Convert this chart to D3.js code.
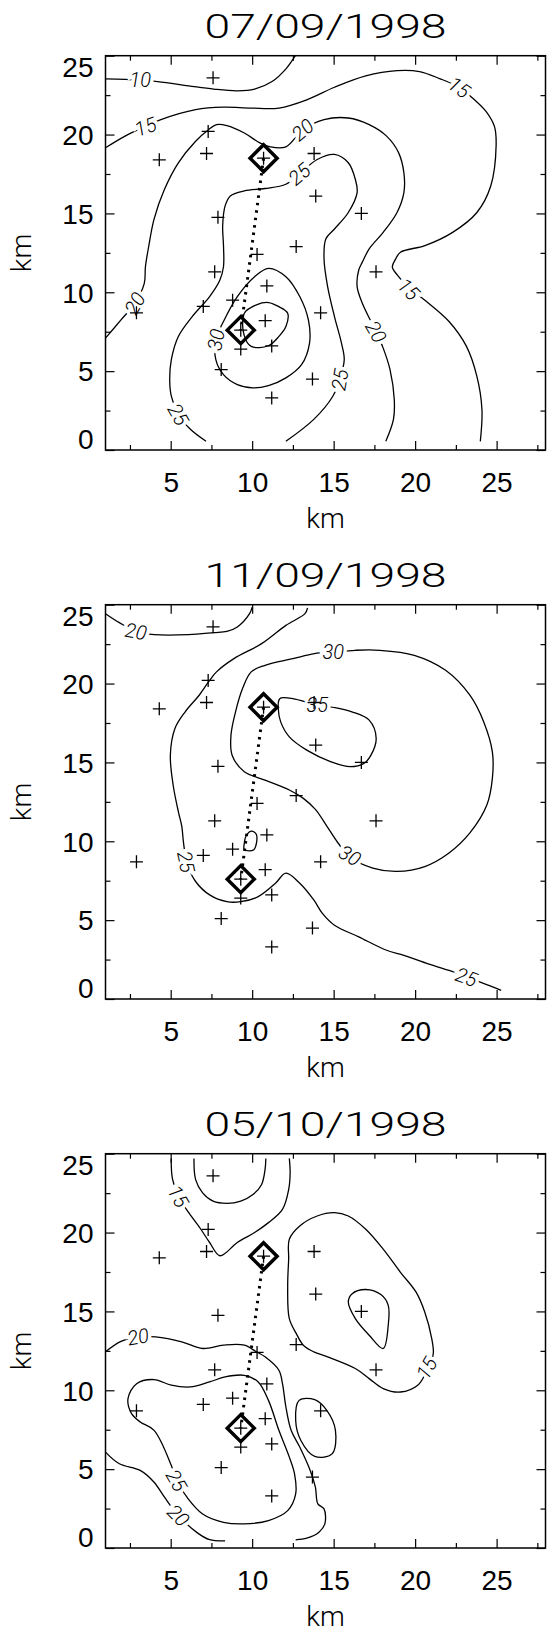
<!DOCTYPE html>
<html>
<head>
<meta charset="utf-8">
<title>Contours 1998</title>
<style>
  body { margin: 0; background: #fff; }
  svg { display: block; font-family: Roboto, "Liberation Sans", sans-serif; }
</style>
</head>
<body>
<svg width="547" height="1634"></svg>
<script src="https://cdn.jsdelivr.net/npm/d3@7/dist/d3.min.js"></script>
<script>

// ---- data (km) ----
var dates = ["07/09/1998", "11/09/1998", "05/10/1998"];
var xTicks = [5, 10, 15, 20, 25];
var yTicks = [0, 5, 10, 15, 20, 25];
var xMinor = [2.5, 7.5, 12.5, 17.5, 22.5, 27.5];
var yMinor = [2.5, 7.5, 12.5, 17.5, 22.5];

// stations (crosses), same on every date
var stations = [[7.6,23.6],[4.3,18.4],[7.2,18.8],[7.3,20.2],[10.7,18.5],[13.8,18.8],[13.9,16.1],
    [16.7,15.0],[7.9,14.75],[12.7,12.9],[10.3,12.4],[7.7,11.3],[17.6,11.3],[10.9,10.4],[8.8,9.5],
    [7.0,9.1],[2.9,8.7],[14.2,8.7],[10.8,8.2],[9.3,7.6],[9.3,6.4],[11.2,6.6],[8.1,5.1],[13.7,4.5],[11.2,3.3]];
// the two marked sites joined by the dotted line
var sites = [[10.7,18.5],[9.3,7.6]];

// 07/09/1998
var p1_10 = [[1,23.53],[2.2,23.5],[4.2,23.36],[6.1,23.09],[7.64,22.88],[9.1,22.77],[10.15,22.88],[11.22,23.36],[12.1,24.2],[12.65,25]];
var p1_15 = [[1,19.16],[2.2,19.9],[3.4,20.5],[4.4,20.95],[6.53,21.58],[8.24,21.74],[9.94,21.68],[11.65,21.68],[13.35,22.2],
    [15.05,23.0],[16.97,23.72],[18.89,24.05],[20.27,23.99],[21.5,23.55],[22.7,23.0],[23.54,22.3],[24.36,21.45],[24.87,20.5],
    [24.97,19.3],[24.64,16.74],[23.79,15.06],[22.3,13.8],[20.6,12.96],[19.1,12.54],[18.8,12.1],[18.6,11.6],[18.9,11.1],
    [19.6,10.3],[20.6,9.5],[22.08,8.15],[23.15,6.57],[23.79,4.67],[24.1,2.57],[24.0,0.55]];
var p1_20 = [[1,7.09],[1.95,8.25],[2.8,9.3],[3.38,10.57],[3.45,11.62],[3.66,12.96],[3.98,14.64],[4.62,16.53],[5.47,18.21],
    [6.53,19.58],[7.32,20.31],[7.81,20.63],[8.45,20.57],[9.52,20.1],[10.47,19.47],[11.11,19.22],[12.07,19.22],[13.1,20.3],
    [14.41,20.95],[15.9,21.05],[17.18,20.63],[18.25,19.9],[18.99,18.84],[19.31,17.58],[19.31,16.32],[18.89,15.06],
    [18.04,13.8],[17.18,12.75],[16.76,11.91],[16.54,11.41],[16.44,10.36],[16.76,9.31],[17.6,7.5],[18.04,6.46],
    [18.46,5.09],[18.72,3.2],[18.67,1.94],[18.2,0.55]];
var p1_25 = [[7.17,0.55],[6.21,1.31],[5.47,2.25],[5.04,3.41],[4.94,4.46],[5.04,5.73],[5.47,7.2],[6.32,8.46],[7.39,9.73],
    [8.02,10.78],[8.24,11.62],[8.24,12.96],[8.19,14.22],[8.34,15.48],[8.66,16.11],[9.52,16.43],[10.79,16.58],[12.07,16.85],
    [12.9,17.5],[13.99,18.42],[15.05,18.74],[15.9,18.21],[16.33,17.16],[16.44,16.32],[15.9,15.06],[15.05,14.01],
    [14.52,13.38],[14.41,12.12],[14.63,10.36],[15.05,8.46],[15.48,6.78],[15.65,5.73],[15.37,4.46],[14.95,3.41],
    [13.78,1.94],[12.07,0.55]];
var p1_30 = [[8.24,8.15],[9.09,9.73],[10.15,10.99],[11.0,11.52],[12.07,10.99],[12.92,9.73],[13.45,8.25],[13.52,6.78],
    [13.03,5.41],[12.07,4.57],[11.0,4.08],[10.05,3.94],[9.09,4.15],[8.24,4.78],[7.77,5.73],[7.77,6.99]];
var p1_35 = [[9.52,8.67],[10.26,9.2],[11.0,9.35],[11.64,9.09],[12.18,8.67],[12.07,7.83],[11.64,7.2],[11.0,6.61],[9.94,6.57],[9.5,7.3]];
var p1_labels = [["10",3.13,23.5,0],["15",3.45,20.5,-20],["15",22.7,23.0,35],["20",13.1,20.3,-40],["25",12.9,17.5,-40],
    ["20",2.8,9.3,-60],["15",19.6,10.2,45],["20",17.6,7.5,60],["30",7.77,6.99,-80],["25",15.37,4.46,-80],["25",5.47,2.25,60]];

// 11/09/1998
var p2_20 = [[1,24.43],[1.85,23.86],[2.87,23.31],[4.0,23.1],[6.1,23.1],[7.64,23.23],[8.45,23.31],[9.09,23.59],[9.84,24.43],[10.0,24.85]];
var p2_25 = [[13.4,24.8],[13.24,24.43],[12.07,23.69],[10.58,22.53],[8.88,21.58],[7.81,20.74],[7.32,20.1],[6.75,19.26],[5.89,18.21],
    [5.26,17.15],[4.98,15.46],[5.15,13.57],[5.47,11.88],[5.68,10.96],[5.79,9.89],[6.0,8.6],[6.53,7.45],[7.39,6.6],
    [8.45,6.17],[9.3,6.17],[10.37,6.49],[11.43,7.34],[12.07,7.98],[12.92,7.34],[13.78,6.28],[14.31,5.43],[15.05,4.68],
    [16.54,3.94],[18.25,3.09],[19.31,2.77],[20.8,2.23],[22.08,1.81],[23.15,1.4],[24.43,0.9],[25.28,0.55]];
var p2_30 = [[14.97,22.0],[16.33,22.11],[17.82,22.11],[19.95,21.79],[21.87,20.84],[23.36,19.26],[24.21,17.57],[24.74,15.67],
    [24.74,13.99],[24.4,12.3],[23.36,10.53],[22.08,9.26],[20.59,8.4],[18.89,8.09],[17.4,8.3],[16.0,9.0],[15.27,9.89],
    [14.52,11.06],[13.88,12.02],[13.14,12.72],[12.28,13.25],[10.79,13.88],[9.52,14.41],[8.77,15.46],[8.7,16.73],
    [8.98,18.21],[9.41,19.68],[9.94,20.74],[10.79,21.16],[12.5,21.58],[13.82,21.9]];
var p2_35 = [[11.64,18.95],[11.77,19.09],[12.5,19.05],[13.99,18.63],[15.16,18.46],[16.12,18.21],[17.18,17.68],[17.61,16.52],
    [17.29,15.46],[16.86,14.94],[16.01,14.73],[14.84,15.04],[13.35,15.78],[12.28,16.62],[11.75,17.57],[11.6,18.42]];
var p2_40 = [[9.52,9.89],[9.62,10.32],[9.94,10.64],[10.26,10.43],[10.1,9.47],[9.52,9.47]];
var p2_labels = [["20",2.87,23.31,10],["30",14.97,22.0,0],["35",13.99,18.63,0],["25",5.95,8.7,78],["30",16.0,9.1,30],["25",23.15,1.4,20]];

// 05/10/1998
var p3_15a = [[5.03,24.7],[5.11,23.4],[5.47,22.3],[6.11,21.26],[6.85,20.21],[7.39,19.37],[8.02,18.53],[9.09,19.37],
    [10.15,20.0],[11.0,20.63],[11.86,21.47],[12.24,22.73],[12.33,23.78],[12.28,24.7]];
var p3_10a = [[6.43,24.7],[6.53,23.36],[6.96,22.52],[7.6,21.99],[8.45,21.85],[9.3,21.99],[10.05,22.41],[10.58,23.05],[10.79,23.99],[10.84,24.7]];
var p3_15b = [[12.28,19.58],[12.92,20.42],[13.99,21.05],[15.05,21.26],[15.9,21.05],[16.97,20.21],[18.04,18.95],[19.1,17.48],
    [20.06,16.22],[20.59,14.96],[21.02,13.28],[21.12,12.4],[21.02,11.91],[20.7,11.2],[20.16,10.32],[19.1,9.89],[18.04,10.11],
    [17.18,10.74],[16.33,11.38],[14.63,12.12],[13.78,12.44],[13.14,12.86],[12.71,13.59],[12.28,14.54],[12.18,16.64],[12.24,18.32]];
var p3_10b = [[15.9,15.59],[16.12,16.11],[16.97,16.39],[17.92,16.05],[18.35,15.38],[18.35,14.12],[18.04,12.65],[17.18,13.49],[16.33,14.54]];
var p3_10c = [[12.88,9.36],[13.84,9.41],[14.58,8.73],[15.11,7.46],[14.9,5.97],[13.84,5.81],[12.99,6.82],[12.67,8.09]];
var p3_20a = [[1,12.44],[1.95,13.1],[3.0,13.4],[4.08,13.38],[5.68,13.07],[6.96,12.65],[8.24,12.86],[9.52,12.86],[10.26,12.44],
    [10.79,12.12],[11.64,11.27],[11.86,10.42],[12.07,8.94],[12.39,7.46],[12.92,6.4],[13.56,4.92],[13.88,3.86],[14.03,2.8],
    [14.41,2.48],[14.46,1.53],[14.1,1.0],[13.35,0.62],[12.67,0.52]];
var p3_20b = [[1,6.08],[1.85,5.34],[3.13,4.92],[3.98,4.17],[4.62,3.22],[5.47,2.06],[6.64,0.96],[7.39,0.53],[8.34,0.45]];
var p3_25 = [[5.04,5.23],[3.98,7.46],[3.13,7.99],[2.6,8.52],[2.38,9.47],[2.91,10.42],[3.98,10.68],[5.04,10.32],[6.21,10.21],
    [7.39,10.53],[8.34,10.85],[9.52,10.95],[10.37,10.53],[11.0,9.36],[11.64,7.46],[12.28,5.76],[12.6,4.7],[12.67,3.43],
    [12.18,2.37],[11.0,1.74],[9.52,1.53],[8.24,1.63],[6.96,2.16],[6.0,3.22],[5.36,4.28]];
var p3_labels = [["15",5.47,22.3,60],["20",3.0,13.4,-10],["15",20.7,11.4,-60],["25",5.36,4.28,60],["20",5.47,2.06,45]];

var panels = [
    {date: dates[0], lines: [p1_10, p1_15, p1_20, p1_25], loops: [p1_30, p1_35], labels: p1_labels},
    {date: dates[1], lines: [p2_20, p2_25], loops: [p2_30, p2_35, p2_40], labels: p2_labels},
    {date: dates[2], lines: [p3_15a, p3_10a, p3_20a, p3_20b], loops: [p3_15b, p3_10b, p3_10c, p3_25], labels: p3_labels}
];

// ---- drawing ----
(function() {
    var svg = d3.select("svg");
    var pitch = 549;
    var x0 = 105.5, x1 = 545.5, y0 = 450, y1 = 55.7;

    var x = d3.scaleLinear().domain([1, 28]).range([x0, x1]);
    var y = d3.scaleLinear().domain([0, 25]).range([y0, y1]);

    var line = d3.line().x(function(d) { return x(d[0]); }).y(function(d) { return y(d[1]); })
        .curve(d3.curveCatmullRom.alpha(0.5));
    var loop = d3.line().x(function(d) { return x(d[0]); }).y(function(d) { return y(d[1]); })
        .curve(d3.curveCatmullRomClosed.alpha(0.5));

    panels.forEach(function(p, k) {
        var g = svg.append("g").attr("transform", "translate(0," + (k * pitch) + ")");

        g.append("text")
            .attr("x", (x0 + x1) / 2).attr("y", 38)
            .attr("text-anchor", "middle")
            .attr("font-size", 34).attr("font-weight", 300)
            .attr("textLength", 242).attr("lengthAdjust", "spacingAndGlyphs")
            .text(p.date);

        // axes, ticks inward on all four sides
        function ax(gen, scale, tv, size, pos, labels) {
            var a = g.append("g").attr("transform", pos)
                .call(gen(scale)
                    .tickValues(tv).tickSizeInner(-size).tickSizeOuter(0)
                    .tickPadding(labels ? (gen === d3.axisBottom ? 22 : 12) : 0)
                    .tickFormat(labels ? d3.format("d") : ""));
            a.select(".domain").remove();
            a.selectAll("line").attr("stroke-width", 1.2);
            a.selectAll("text").attr("font-size", 28).attr("font-weight", 300)
                .attr("font-family", null).attr("fill", "#000");
            return a;
        }
        ax(d3.axisBottom, x, xTicks, 9, "translate(0," + y0 + ")", true);
        ax(d3.axisBottom, x, xMinor, 5, "translate(0," + y0 + ")", false);
        ax(d3.axisTop, x, xTicks, 9, "translate(0," + y1 + ")", false);
        ax(d3.axisTop, x, xMinor, 5, "translate(0," + y1 + ")", false);
        var ya = ax(d3.axisLeft, y, yTicks, 9, "translate(" + x0 + ",0)", true);
        ax(d3.axisLeft, y, yMinor, 5, "translate(" + x0 + ",0)", false);
        ax(d3.axisRight, y, yTicks, 9, "translate(" + x1 + ",0)", false);
        ax(d3.axisRight, y, yMinor, 5, "translate(" + x1 + ",0)", false);
        ya.selectAll(".tick text").attr("dy", function(d) { return d === 0 ? "-0.05em" : d === 25 ? "0.75em" : "0.35em"; });

        g.append("rect")
            .attr("x", x0).attr("y", y1)
            .attr("width", x1 - x0).attr("height", y0 - y1)
            .attr("fill", "none").attr("stroke", "#000").attr("stroke-width", 1.5);

        g.append("text")
            .attr("x", (x0 + x1) / 2).attr("y", 528)
            .attr("text-anchor", "middle").attr("font-size", 28).attr("font-weight", 300)
            .text("km");
        g.append("text")
            .attr("transform", "translate(31," + ((y0 + y1) / 2) + ") rotate(-90)")
            .attr("text-anchor", "middle").attr("font-size", 28).attr("font-weight", 300)
            .text("km");

        var cg = g.append("g").attr("fill", "none").attr("stroke", "#000").attr("stroke-width", 1.3);
        cg.selectAll(".open").data(p.lines).enter().append("path").attr("d", line);
        cg.selectAll(".closed").data(p.loops).enter().append("path").attr("d", loop);

        g.selectAll(".clab").data(p.labels).enter().append("text")
            .attr("transform", function(d) { return "translate(" + x(d[1]) + "," + y(d[2]) + ") rotate(" + d[3] + ")"; })
            .attr("text-anchor", "middle").attr("dy", "0.36em")
            .attr("font-size", 20).attr("font-style", "italic").attr("font-weight", 300)
            .attr("stroke", "#fff").attr("stroke-width", 7).attr("paint-order", "stroke")
            .text(function(d) { return d[0]; });

        g.selectAll(".stn").data(stations).enter().append("path")
            .attr("transform", function(d) { return "translate(" + x(d[0]) + "," + y(d[1]) + ")"; })
            .attr("d", "M-6.5,0H6.5M0,-6.5V6.5").attr("stroke", "#000").attr("stroke-width", 1.3);

        g.append("path")
            .attr("d", d3.line().x(function(d) { return x(d[0]); }).y(function(d) { return y(d[1]); })(sites))
            .attr("stroke", "#000").attr("stroke-width", 3).attr("stroke-dasharray", "2.5,5").attr("fill", "none");

        g.selectAll(".site").data(sites).enter().append("path")
            .attr("transform", function(d) { return "translate(" + x(d[0]) + "," + y(d[1]) + ")"; })
            .attr("d", "M0,-13.5L13.5,0L0,13.5L-13.5,0Z")
            .attr("fill", "none").attr("stroke", "#000").attr("stroke-width", 3.5);
    });
})();

</script>
</body>
</html>
